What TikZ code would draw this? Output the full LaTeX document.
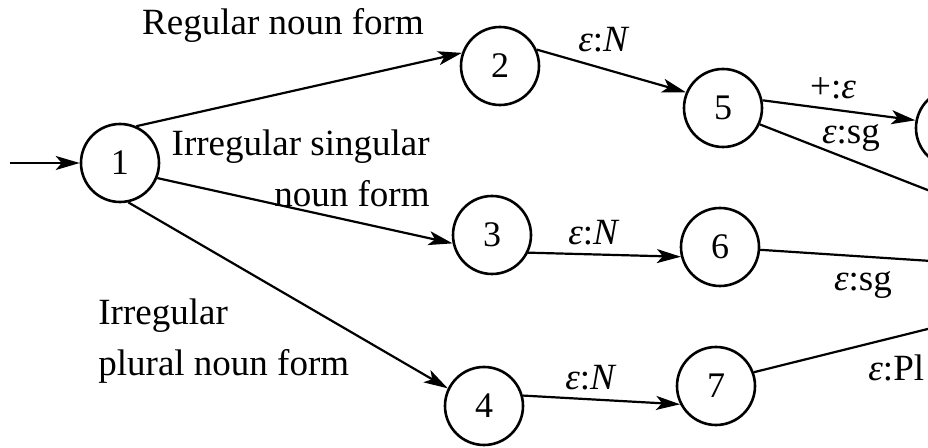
\documentclass[tikz,border=0pt]{standalone}
\usepackage{fontspec}
\setmainfont{Liberation Serif}
\usetikzlibrary{arrows.meta}
\newcommand{\eps}{\textit{ε}}
\begin{document}
\begin{tikzpicture}[x=0.5pt,y=-0.5pt,
  st/.style={circle,draw,line width=1.3pt,minimum size=39pt,inner sep=0pt,font=\fontsize{18}{21}\selectfont},
  lab/.style={font=\fontsize{18.5}{25.5}\selectfont,inner sep=0pt},
  tr/.style={line width=1.1pt,-{Stealth[length=12pt,width=7pt,inset=3pt]}},
  ln/.style={line width=1.1pt}]
\useasboundingbox (0,0) rectangle (928,448);
\clip (0,0) rectangle (928,448);
\node[st] (n1) at (120,163) {1};
\node[st] (n2) at (500,66) {2};
\node[st] (n3) at (492,235) {3};
\node[st] (n4) at (484,406) {4};
\node[st] (n5) at (723,108) {5};
\node[st] (n6) at (720,247) {6};
\node[st] (n7) at (716,386) {7};
\node[st] (n8) at (955,128) {};
\node[st] (n9) at (1145,275) {};
\coordinate (s) at (10,163);
\draw[tr] (s) -- (n1);
\draw[tr] (n1.66) -- (n2.161);
\draw[tr] (n1.-22) -- (n3.192);
\draw[tr] (n1.-78) -- (n4.154);
\draw[tr] (n2.24) -- (n5.157);
\draw[tr] (n3.-26) -- (n6.194);
\draw[tr] (n4.15) -- (n7.207);
\draw[tr] (n5.11) -- (n8.169);
\draw[tr] (n5.-24) -- (n9);
\draw[tr] (n6.-4) -- (n9);
\draw[tr] (n7.20) -- (n9);
\node[lab,anchor=base] (l1) at (283,35) {Regular noun form};
\node[lab,anchor=east,align=right] (l2) at (430,168) {Irregular singular\\noun form};
\node[lab,anchor=west,align=left] (l3) at (98,341) {Irregular\\plural noun form};
\node[lab] (l4) at (604,40) {\eps:\textit{N}};
\node[lab] (l5) at (833,88) {+:\eps};
\node[lab] (l6) at (851,138) {\eps:sg};
\node[lab] (l7) at (594,233) {\eps:\textit{N}};
\node[lab] (l8) at (863,285) {\eps:sg};
\node[lab] (l9) at (591,378) {\eps:\textit{N}};
\node[lab,anchor=base west] (l10) at (868,381) {\eps:Pl};
\end{tikzpicture}
\end{document}
